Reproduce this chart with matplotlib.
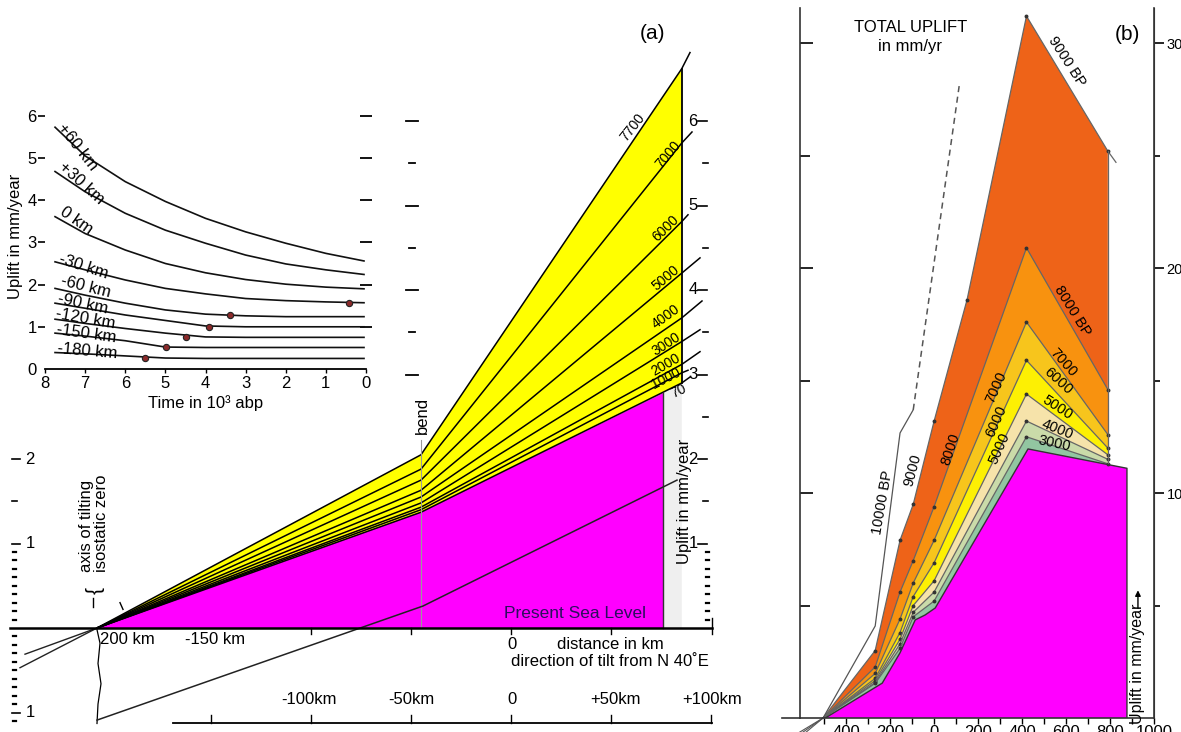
import numpy as np
import matplotlib
matplotlib.use('Agg')
import matplotlib.pyplot as plt

plt.rcParams['font.family'] = ['Liberation Sans', 'DejaVu Sans']

# ------------------
# PANEL (a) DATA : distance in km (N 40E), uplift in mm/yr
# ------------------
fan_ages = ['7700', '7000', '6000', '5000', '4000', '3000', '2000', '1000', '70']
fan_x = [-207, -45, 85.4]          # axis of tilting, bend, east edge
fan_bend = [2.05, 1.88, 1.75, 1.63, 1.55, 1.48, 1.43, 1.40, 1.37]
fan_edge = [6.62, 5.74, 4.81, 4.20, 3.67, 3.39, 3.12, 3.02, 2.90]
fan_tip_x = [89.5, 90.5, 88.5, 94.5, 95.5, 94.5, 94.5, 88.5, 89.5]
fan_tip = [6.81, 5.87, 4.89, 4.38, 3.87, 3.53, 3.27, 3.05, 2.97]

present_x = [-207, -45, 76]
present_y = [0, 1.37, 2.78]

diag_x = [-207, -44, 83]
diag_y = [-1.09, 0.26, 1.75]

back_x = [-243, -245.5]
back_y = [-0.31, -0.47]

# inset : uplift rate vs time (10^3 yr BP)
inset_t = [7.75, 7, 6, 5, 4, 3, 2, 1, 0.05]
inset_names = ['+60 km', '+30 km', '0 km', '-30 km', '-60 km', '-90 km',
               '-120 km', '-150 km', '-180 km']
u_p60 = [5.73, 5.05, 4.44, 3.97, 3.57, 3.25, 2.98, 2.74, 2.56]
u_p30 = [4.68, 4.20, 3.69, 3.29, 2.98, 2.70, 2.49, 2.35, 2.24]
u_0 = [3.61, 3.21, 2.82, 2.50, 2.28, 2.12, 2.01, 1.94, 1.90]
u_m30 = [2.54, 2.35, 2.11, 1.91, 1.78, 1.67, 1.62, 1.59, 1.57]
u_m60 = [1.91, 1.75, 1.56, 1.40, 1.30, 1.26, 1.24, 1.24, 1.24]
u_m90 = [1.56, 1.44, 1.28, 1.15, 1.02, 1.00, 1.00, 1.00, 1.00]
u_m120 = [1.18, 1.08, 0.96, 0.85, 0.76, 0.75, 0.75, 0.75, 0.75]
u_m150 = [0.85, 0.78, 0.67, 0.52, 0.51, 0.51, 0.51, 0.51, 0.51]
u_m180 = [0.39, 0.36, 0.31, 0.26, 0.25, 0.25, 0.25, 0.25, 0.25]
inset_curves = [u_p60, u_p30, u_0, u_m30, u_m60, u_m90, u_m120, u_m150, u_m180]
dot_t = [0.42, 3.39, 3.92, 4.49, 4.98, 5.5]
dot_u = [1.57, 1.27, 1.00, 0.75, 0.51, 0.25]

# ------------------
# PANEL (b) DATA : total uplift, distance vs mm/yr
# ------------------
b_x = [-505, -268, -155, -95, 0, 420, 790]
b9000_x = [-505, -268, -155, -95, 0, 150, 420, 790]
b9000_y = [0, 3.0, 7.9, 9.5, 13.2, 18.6, 31.2, 25.2]
b8000 = [0, 2.27, 5.6, 7.0, 9.4, 20.9, 14.6]
b7000 = [0, 1.98, 4.4, 6.0, 7.9, 17.6, 12.6]
b6000 = [0, 1.76, 3.8, 5.4, 6.9, 15.9, 12.0]
b5000 = [0, 1.66, 3.5, 5.0, 6.1, 14.4, 11.7]
b4000 = [0, 1.58, 3.3, 4.7, 5.6, 13.2, 11.5]
b3000 = [0, 1.54, 3.1, 4.5, 5.2, 12.5, 11.3]
bmag_x = [-495, -236, -155, -86, -41, 5, 427, 877]
bmag_y = [0, 1.55, 2.9, 4.36, 4.58, 4.89, 11.96, 11.1]
b10000_x = [-505, -268, -155, -95]
b10000_y = [0, 4.09, 12.67, 13.7]
b10000_dash_x = [-95, 114]
b10000_dash_y = [13.7, 28.1]

b_layers = [b8000, b7000, b6000, b5000, b4000, b3000]
b_colors = ['#F8920F', '#F7C51C', '#FDF003', '#F6E3AA', '#CADBA9', '#92C6A1']

W, H = 1181, 732
fig = plt.figure(figsize=(W / 100, H / 100), dpi=100)

# ------------------
# PANEL (a) MAIN
# ------------------
axa = fig.add_axes([0, 0, 720 / W, 1])
axa.set_xlim(-255.5, 104.5)
axa.set_ylim(-104 / 84.5, 628 / 84.5)
axa.axis('off')

top = [0, fan_bend[0], fan_edge[0]]
bot = [0, fan_bend[-1], fan_edge[-1]]
axa.fill(fan_x + fan_x[::-1], top + bot[::-1], color='#FFFF00', lw=0, zorder=1)
axa.fill([present_x[-1], present_x[-1], fan_x[-1], fan_x[-1]],
         [0, present_y[-1], fan_edge[-1], 0], color='#EFEFEF', lw=0, zorder=1)
axa.fill(present_x + [present_x[-1]], present_y + [0], color='#FF00FF', lw=0, zorder=2)

for i, age in enumerate(fan_ages):
    axa.plot(fan_x + [fan_tip_x[i]], [0, fan_bend[i], fan_edge[i], fan_tip[i]],
             color='k', lw=1.1, zorder=3)
axa.plot([fan_x[-1], fan_x[-1]], [fan_edge[-1], fan_edge[0]], color='k', lw=1.3, zorder=3)
axa.plot([present_x[-1], present_x[-1]], [0, present_y[-1]], color='#333333', lw=1, zorder=3)

lab_pos = [(61, 5.92), (78.5, 5.60), (77.5, 4.73), (77.5, 4.14), (77.5, 3.68),
           (77.5, 3.36), (77.5, 3.12), (77.5, 2.95), (84, 2.80)]
lab_rot = [52, 50, 44, 40, 36, 33, 30, 27, 25]
for age, (lx, ly), r in zip(fan_ages, lab_pos, lab_rot):
    axa.text(lx, ly, age, rotation=r, rotation_mode='anchor', ha='center', va='center',
             fontsize=10, zorder=4)

# bend
axa.plot([-45, -45], [0, 2.22], color='#999999', lw=0.8, zorder=3)
axa.text(-44.5, 2.30, 'bend', rotation=90, ha='center', va='bottom', fontsize=12)

# long diagonal and back lines
axa.plot(diag_x, diag_y, color='#222222', lw=1.1, zorder=3)
for bx, by in zip(back_x, back_y):
    axa.plot([fan_x[0], bx], [0, by], color='#222222', lw=1.0, zorder=3)

# sea level
axa.plot([-250.5, 100.5], [0, 0], color='k', lw=1.8, zorder=5)
for xt in [-100, -50, 0, 50]:
    axa.plot([xt, xt], [0, -0.07], color='k', lw=1, zorder=5)
axa.plot([100.5, 100.5], [-0.07, 0.12], color='k', lw=1, zorder=5)

axa.text(-205.5, -0.14, '200 km', ha='left', va='center', fontsize=12)
axa.text(-148, -0.14, '-150 km', ha='center', va='center', fontsize=12)
axa.text(0.5, -0.19, '0', ha='center', va='center', fontsize=12)
axa.text(49.5, -0.19, 'distance in km', ha='center', va='center', fontsize=12)
axa.text(49.5, -0.40, 'direction of tilt from N 40˚E', ha='center', va='center', fontsize=12)
axa.text(32, 0.17, 'Present Sea Level', ha='center', va='center', fontsize=12.5,
         color='#2B0F5E', zorder=6)

# lower distance scale
axa.plot([-169, 100.5], [-1.126, -1.126], color='k', lw=1.3)
for xt in [-150, -100, -50, 0, 50, 100]:
    axa.plot([xt, xt], [-1.126, -1.03], color='k', lw=1)
for xt, s in zip([-101, -50, 0.5, 52, 100.5], ['-100km', '-50km', '0', '+50km', '+100km']):
    axa.text(xt, -0.85, s, ha='center', va='center', fontsize=12)

# axis of tilting
axa.text(-212.5, 0.66, 'axis of tilting', rotation=90, ha='center', va='bottom', fontsize=12)
axa.text(-204.8, 0.66, 'isostatic zero', rotation=90, ha='center', va='bottom', fontsize=12)
axa.text(-208.7, 0.44, '}', rotation=-90, ha='center', va='center', fontsize=15)
axa.plot([-209, -209], [0.36, 0.25], color='k', lw=1)
axa.plot([-195.5, -194], [0.30, 0.22], color='k', lw=1)
axa.plot([-207, -205.5, -206.5, -205, -206.5, -207],
         [-0.02, -0.18, -0.42, -0.66, -0.90, -1.13], color='k', lw=0.9)

# left scale
for v in [2, 1, -1]:
    axa.plot([-249.5, -245.5], [v, v], color='k', lw=1.2)
axa.plot([-249.5, -247], [1.5, 1.5], color='k', lw=1.2)
for v in list(np.arange(0.1, 0.95, 0.1)) + list(np.arange(-0.1, -0.95, -0.1)) + [-1.1]:
    axa.plot([-249, -247.5], [v, v], color='k', lw=1.6)
for v, s in zip([2, 1, -1], ['2', '1', '1']):
    axa.text(-240.5, v, s, ha='center', va='center', fontsize=12)

# right scale
for v in [1, 2, 3, 4, 5, 6]:
    axa.plot([93.5, 98], [v, v], color='k', lw=1.2)
    axa.text(91, v, str(v), ha='center', va='center', fontsize=12)
for v in [1.5, 2.5, 3.5, 4.5, 5.5]:
    axa.plot([96, 98.5], [v, v], color='k', lw=1.2)
for v in np.arange(0.1, 0.95, 0.1):
    axa.plot([97.5, 99], [v, v], color='k', lw=1.6)
axa.text(86.5, 1.5, 'Uplift in mm/year', rotation=90, ha='center', va='center', fontsize=12)

# middle column of scale marks
for v in [3, 4, 5, 6]:
    axa.plot([-52.5, -46.5], [v, v], color='k', lw=1.3)
for v in [3.5, 4.5, 5.5]:
    axa.plot([-51, -48], [v, v], color='k', lw=1.3)

axa.text(70.5, 7.04, '(a)', ha='center', va='center', fontsize=15)

# ------------------
# PANEL (a) INSET
# ------------------
axi = fig.add_axes([45 / W, (H - 369) / H, 321 / W, 6.3 * 42.2 / H])
axi.set_xlim(8, 0)
axi.set_ylim(0, 6.3)
axi.set_facecolor('none')
for s in ['left', 'right', 'top']:
    axi.spines[s].set_visible(False)
axi.spines['bottom'].set_linewidth(1.3)
axi.set_xticks(range(8, -1, -1))
axi.set_yticks(range(0, 7))
axi.tick_params(axis='x', direction='out', length=3, width=1, labelsize=12, pad=2)
axi.tick_params(axis='y', direction='out', length=5, width=1.2, labelsize=12, pad=1)
axi.yaxis.get_major_ticks()[0].tick1line.set_visible(False)
axi.set_xlabel('Time in 10³ abp', fontsize=12, labelpad=3)
axi.set_ylabel('Uplift in mm/year', fontsize=12, labelpad=3)
axi.plot([0] * 6, range(1, 7), ls='none', marker='_', ms=8, mew=1.3, color='k', clip_on=False)

for u in inset_curves:
    axi.plot(inset_t, u, color='#111111', lw=1.2)
axi.plot(dot_t, dot_u, ls='none', marker='o', ms=4.5, mfc='#8B2A2A', mec='#222222', mew=0.8)

inset_lab = [(7.18, 5.26, -52), (7.08, 4.41, -42), (7.23, 3.51, -35), (7.05, 2.42, -18),
             (6.98, 1.94, -14), (7.05, 1.54, -12), (6.98, 1.18, -10), (6.98, 0.83, -8),
             (6.95, 0.43, -5)]
for name, (lt, lu, r) in zip(inset_names, inset_lab):
    axi.text(lt, lu, name, rotation=r, rotation_mode='anchor', ha='center', va='center',
             fontsize=12)

# ------------------
# PANEL (b)
# ------------------
axb = fig.add_axes([800 / W, 14 / H, 354 / W, 710 / H])
axb.set_xlim(-610, 1000)
axb.set_ylim(0, 31.56)
axb.set_facecolor('none')
axb.spines['top'].set_visible(False)
for s in ['left', 'right', 'bottom']:
    axb.spines[s].set_linewidth(1.2)
    axb.spines[s].set_color('#333333')

edge = '#666666'
axb.fill(b9000_x + [790, -505], b9000_y + [0, 0], color='#EE6318', lw=0)
axb.plot(b9000_x, b9000_y, color=edge, lw=0.9)
axb.plot([790, 827], [25.2, 24.7], color=edge, lw=0.9)
for y, c in zip(b_layers, b_colors):
    axb.fill(b_x + [790, -505], y + [0, 0], color=c, lw=0)
    axb.plot(b_x, y, color=edge, lw=0.9)
    axb.plot(b_x[1:], y[1:], ls='none', marker='o', ms=1.8, color='#333333')
axb.plot(b9000_x[1:], b9000_y[1:], ls='none', marker='o', ms=1.8, color='#333333')
axb.plot([790, 790], [b3000[-1], b9000_y[-1]], color=edge, lw=0.9)
axb.fill(bmag_x + [877], bmag_y + [0], color='#FF00FF', lw=0)
axb.plot(bmag_x + [877], bmag_y + [0], color='#333333', lw=1)

axb.plot(b10000_x, b10000_y, color='#555555', lw=0.9)
axb.plot(b10000_dash_x, b10000_dash_y, color='#555555', lw=1.1, ls=(0, (4, 3)))
for ex in [-615, -600, -585]:
    axb.plot([-505, ex], [0, -0.65], color='#555555', lw=0.8, clip_on=False)
axb.plot([-691, -610], [0, 0], color='#333333', lw=1.2, clip_on=False)

axb.set_xticks([-400, -200, 0, 200, 400, 600, 800, 1000])
axb.set_xticklabels(['400', '200', '0', '200', '400', '600', '800', '1000'])
axb.set_xticks(range(-500, 1001, 100), minor=True)
axb.tick_params(axis='x', which='both', direction='out', length=4, width=1, labelsize=12, pad=1)
axb.set_yticks([10, 20, 30])
axb.set_yticks([5, 15, 25], minor=True)
axb.tick_params(axis='y', which='major', direction='in', length=9, width=1.2, labelleft=False)
axb.tick_params(axis='y', which='minor', direction='in', length=7, width=1.2)
sec = axb.secondary_yaxis('right')
sec.set_yticks([10, 20, 30])
sec.set_yticks([5, 15, 25], minor=True)
sec.tick_params(which='major', direction='out', length=7, width=1.2, labelsize=10.5, pad=2)
sec.tick_params(which='minor', direction='out', length=4, width=1.2)
sec.spines['right'].set_color('#333333')

axb.text(-109, 30.7, 'TOTAL UPLIFT', ha='center', va='center', fontsize=12)
axb.text(-109, 29.85, 'in mm/yr', ha='center', va='center', fontsize=12)
axb.text(877, 30.4, '(b)', ha='center', va='center', fontsize=15)

b_right_lab = [('9000 BP', 605, 29.2, -57), ('8000 BP', 627, 18.1, -58), ('7000', 586, 15.8, -48),
               ('6000', 564, 15.0, -42), ('5000', 559, 13.8, -33), ('4000', 559, 12.84, -22),
               ('3000', 545, 12.2, -12)]
b_left_lab = [('10000 BP', -232, 9.6, 80), ('9000', -95, 11.0, 75), ('8000', 73, 11.96, 72),
              ('7000', 282, 14.7, 66), ('6000', 282, 13.2, 66), ('5000', 295, 12.0, 66)]
for s, lx, ly, r in b_right_lab + b_left_lab:
    axb.text(lx, ly, s, rotation=r, rotation_mode='anchor', ha='center', va='center', fontsize=10.5)

axb.text(927, 2.4, 'Uplift in mm/year', rotation=90, ha='center', va='center', fontsize=11.5)
axb.annotate('', xy=(927, 5.8), xytext=(927, 4.75),
             arrowprops=dict(arrowstyle='-|>', color='k', lw=1, mutation_scale=8))

fig.savefig('out.png', dpi=100)
